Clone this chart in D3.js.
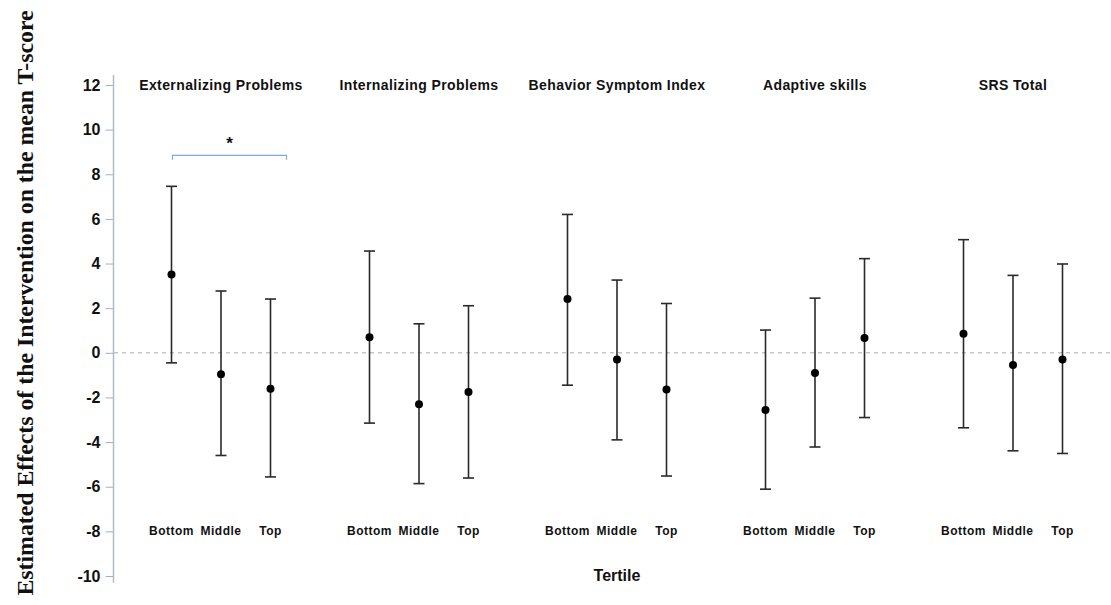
<!DOCTYPE html>
<html>
<head>
<meta charset="utf-8">
<script src="https://cdn.jsdelivr.net/npm/d3@7"></script>
<style>
  html, body { margin: 0; padding: 0; background: #fff; }
  svg { display: block; }
  .tick text { font-family: "Liberation Sans", Arial, sans-serif; font-weight: bold; font-size: 16px; fill: #111; }
</style>
</head>
<body>
<svg id="chart" width="1111" height="605"></svg>
<script>
  // outcome groups and tertiles
  var groups = ['Externalizing Problems', 'Internalizing Problems', 'Behavior Symptom Index', 'Adaptive skills', 'SRS Total'];
  var tertiles = ['Bottom', 'Middle', 'Top'];

  // estimates and 95% CI per group, in tertile order
  var estimate = [
    [3.51, -0.96, -1.61],
    [0.70, -2.30, -1.75],
    [2.41, -0.30, -1.64],
    [-2.56, -0.90, 0.66],
    [0.85, -0.55, -0.30]
  ];
  var upper = [
    [7.46, 2.77, 2.41],
    [4.56, 1.30, 2.11],
    [6.20, 3.26, 2.21],
    [1.02, 2.45, 4.22],
    [5.07, 3.47, 3.98]
  ];
  var lower = [
    [-0.45, -4.60, -5.56],
    [-3.15, -5.86, -5.61],
    [-1.45, -3.90, -5.52],
    [-6.11, -4.22, -2.90],
    [-3.36, -4.39, -4.51]
  ];
  var yTicks = [-10, -8, -6, -4, -2, 0, 2, 4, 6, 8, 10, 12];

  var svg = d3.select('#chart');

  var y = d3.scaleLinear().domain([-10, 12]).range([576, 85]);
  var xGroup = d3.scaleBand().domain(groups).range([122, 1112]);
  var xTert = d3.scalePoint().domain(tertiles).range([-49.5, 49.5]);

  function xPos(g, t) { return xGroup(g) + xGroup.bandwidth() / 2 + xTert(t); }

  var rows = [];
  groups.forEach(function(g, i) {
    tertiles.forEach(function(t, j) {
      rows.push({group: g, tertile: t, est: estimate[i][j], lo: lower[i][j], hi: upper[i][j]});
    });
  });

  // zero reference line
  svg.append('line')
    .attr('x1', 114).attr('x2', 1111)
    .attr('y1', y(0)).attr('y2', y(0))
    .attr('stroke', '#aaa').attr('stroke-width', 1)
    .attr('stroke-dasharray', '4,4');

  // y axis (plain hyphen for negatives, like the original)
  var yAxis = svg.append('g')
    .attr('transform', 'translate(113.5,0)')
    .call(d3.axisLeft(y).tickValues(yTicks).tickSize(8).tickPadding(5).tickFormat(function(d) { return String(d); }));
  yAxis.select('.domain').remove();
  yAxis.selectAll('.tick line').attr('stroke', '#aab0b8');
  yAxis.append('line')
    .attr('y1', y(12.45)).attr('y2', y(-10.3))
    .attr('stroke', '#b4bac2').attr('stroke-width', 1.5);

  svg.append('text')
    .attr('transform', 'translate(33,303) rotate(-90)')
    .attr('text-anchor', 'middle')
    .style('font-family', '"Liberation Serif", "Times New Roman", serif')
    .style('font-weight', 'bold')
    .style('font-size', '23.8px')
    .attr('fill', '#111')
    .text('Estimated Effects of the Intervention on the mean T-score');

  // group titles
  svg.selectAll('.gtitle')
    .data(groups).enter().append('text')
    .attr('class', 'gtitle')
    .attr('x', function(d) { return xGroup(d) + xGroup.bandwidth() / 2; })
    .attr('y', y(12) + 5)
    .attr('text-anchor', 'middle')
    .style('font-family', '"Liberation Sans", Arial, sans-serif')
    .style('font-weight', 'bold')
    .style('font-size', '14px')
    .style('letter-spacing', '0.4px')
    .attr('fill', '#111')
    .text(function(d) { return d; });

  // tertile labels
  svg.selectAll('.tlabel')
    .data(rows).enter().append('text')
    .attr('class', 'tlabel')
    .attr('x', function(d) { return xPos(d.group, d.tertile); })
    .attr('y', y(-8) + 4)
    .attr('text-anchor', 'middle')
    .style('font-family', '"Liberation Sans", Arial, sans-serif')
    .style('font-weight', 'bold')
    .style('font-size', '12px')
    .style('letter-spacing', '0.5px')
    .attr('fill', '#111')
    .text(function(d) { return d.tertile; });

  svg.append('text')
    .attr('x', xGroup(groups[2]) + xGroup.bandwidth() / 2)
    .attr('y', y(-10) + 5)
    .attr('text-anchor', 'middle')
    .style('font-family', '"Liberation Sans", Arial, sans-serif')
    .style('font-weight', 'bold')
    .style('font-size', '16px')
    .attr('fill', '#111')
    .text('Tertile');

  // error bars
  var bars = svg.append('g').attr('stroke', '#2a2a2a').attr('stroke-width', 1.6);
  bars.selectAll('.ci')
    .data(rows).enter().append('line')
    .attr('x1', function(d) { return xPos(d.group, d.tertile); })
    .attr('x2', function(d) { return xPos(d.group, d.tertile); })
    .attr('y1', function(d) { return y(d.hi); })
    .attr('y2', function(d) { return y(d.lo); });
  ['hi', 'lo'].forEach(function(k) {
    bars.selectAll('.cap-' + k)
      .data(rows).enter().append('line')
      .attr('x1', function(d) { return xPos(d.group, d.tertile) - 5.5; })
      .attr('x2', function(d) { return xPos(d.group, d.tertile) + 5.5; })
      .attr('y1', function(d) { return y(d[k]); })
      .attr('y2', function(d) { return y(d[k]); });
  });

  svg.selectAll('.pt')
    .data(rows).enter().append('circle')
    .attr('cx', function(d) { return xPos(d.group, d.tertile); })
    .attr('cy', function(d) { return y(d.est); })
    .attr('r', 4)
    .attr('fill', '#000');

  // significance bracket, Bottom vs Top in Externalizing Problems
  var bx1 = xPos(groups[0], 'Bottom') + 1, bx2 = xPos(groups[0], 'Top') + 16;
  svg.append('path')
    .attr('d', d3.line()([[bx1, y(8.65)], [bx1, y(8.85)], [bx2, y(8.85)], [bx2, y(8.65)]]))
    .attr('fill', 'none')
    .attr('stroke', '#7ea8d8')
    .attr('stroke-width', 1.2);
  svg.append('text')
    .attr('x', (bx1 + bx2) / 2)
    .attr('y', y(9.15))
    .attr('text-anchor', 'middle')
    .style('font-family', '"Liberation Sans", Arial, sans-serif')
    .style('font-weight', 'bold')
    .style('font-size', '17px')
    .attr('fill', '#111')
    .text('*');
</script>
</body>
</html>
